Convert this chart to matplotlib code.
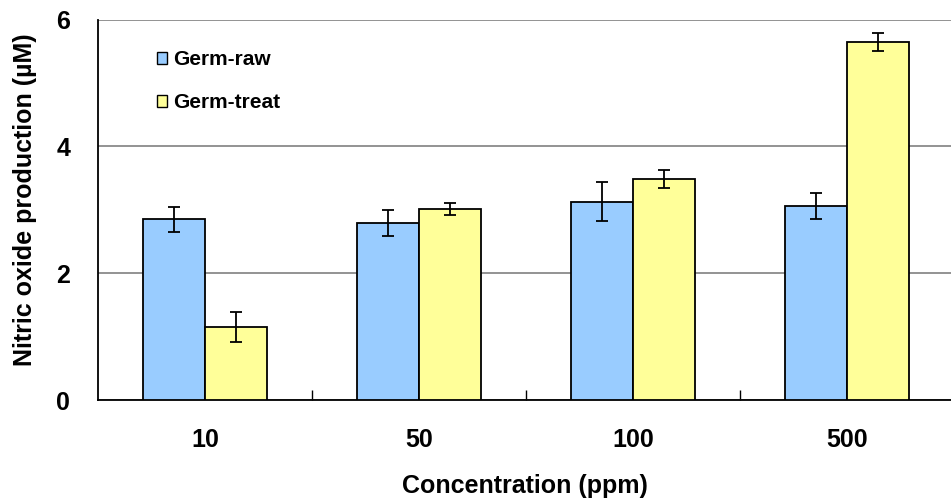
import matplotlib
matplotlib.use("Agg")
import matplotlib.pyplot as plt
import numpy as np

plt.rcParams['font.family'] = ['Liberation Sans', 'DejaVu Sans']
plt.rcParams['font.weight'] = 'bold'

concentrations = ['10', '50', '100', '500']
germ_raw = [2.85, 2.79, 3.13, 3.06]
germ_raw_err = [0.20, 0.20, 0.30, 0.205]
germ_treat = [1.15, 3.01, 3.49, 5.64]
germ_treat_err = [0.23, 0.09, 0.14, 0.14]
series_names = ['Germ-raw', 'Germ-treat']

fig = plt.figure(figsize=(9.51, 5.04), dpi=100)
ax = fig.add_axes([98 / 951, 104 / 504, 853 / 951, 380.5 / 504])

x = np.arange(len(concentrations))
width = 0.288
err_kw = dict(ecolor='black', elinewidth=1.3, capsize=4, capthick=1.3)
ax.bar(x - width / 2, germ_raw, width, yerr=germ_raw_err, color='#99CCFF',
       edgecolor='black', linewidth=1.3, label=series_names[0], error_kw=err_kw, zorder=3)
ax.bar(x + width / 2, germ_treat, width, yerr=germ_treat_err, color='#FFFF99',
       edgecolor='black', linewidth=1.3, label=series_names[1], error_kw=err_kw, zorder=3)

ax.set_ylim(0, 6)
ax.set_xlim(-0.5, -0.5 + 853 / 214)
ax.set_yticks([0, 2, 4, 6])
ax.yaxis.grid(True, color='#808080', linewidth=1.2, zorder=0)
ax.set_axisbelow(True)

# category labels centred under each group, small separators between groups
ax.set_xticks(x)
ax.set_xticklabels(concentrations)
ax.set_xticks(np.arange(len(concentrations) - 1) + 0.5, minor=True)
ax.tick_params(axis='x', which='major', length=0, pad=20, labelsize=18)
ax.tick_params(axis='x', which='minor', direction='in', length=7, width=1, color='black')
ax.tick_params(axis='y', direction='in', length=0, pad=20, labelsize=18)

for side in ('top', 'right'):
    ax.spines[side].set_visible(False)
for side in ('left', 'bottom'):
    ax.spines[side].set_color('black')
    ax.spines[side].set_linewidth(1.3)

ax.set_xlabel('Concentration (ppm)', fontsize=18, fontweight='bold', labelpad=16)
ax.set_ylabel('Nitric oxide production (µM)', fontsize=18, fontweight='bold')
ax.yaxis.set_label_coords(-0.0715, 0.526)

leg = ax.legend(loc='upper left', bbox_to_anchor=(0.047, 0.968), frameon=False,
                fontsize=15, handlelength=0.5, handleheight=0.5, handletextpad=0.3,
                labelspacing=1.15)
for h in leg.legend_handles:
    h.set_linewidth(1.0)

fig.savefig('out.png', dpi=100)
